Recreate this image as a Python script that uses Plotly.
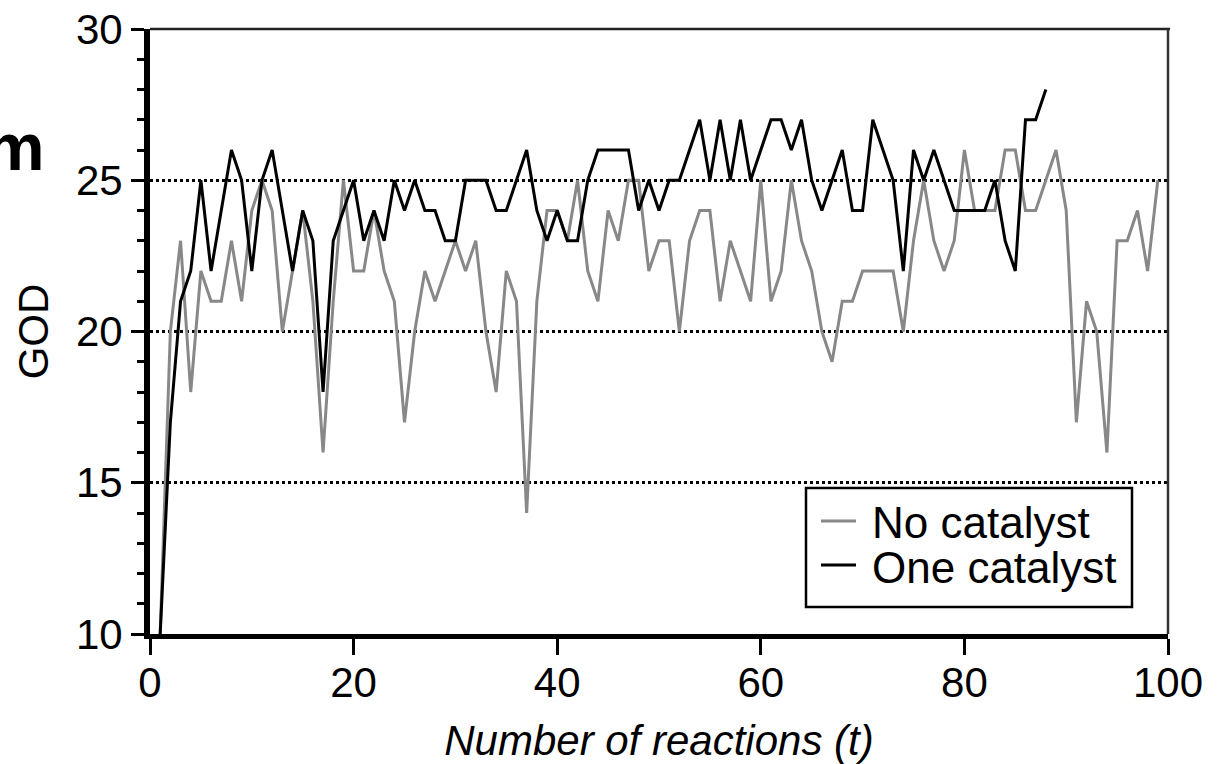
import plotly.graph_objects as go

# ---- data ----
t_no = list(range(1, 100))
god_no_catalyst = [
    10, 20, 23, 18, 22, 21, 21, 23, 21, 24,
    25, 24, 20, 22, 24, 21, 16, 21, 25, 22,
    22, 24, 22, 21, 17, 20, 22, 21, 22, 23,
    22, 23, 20, 18, 22, 21, 14, 21, 24, 24,
    23, 25, 22, 21, 24, 23, 25, 25, 22, 23,
    23, 20, 23, 24, 24, 21, 23, 22, 21, 25,
    21, 22, 25, 23, 22, 20, 19, 21, 21, 22,
    22, 22, 22, 20, 23, 25, 23, 22, 23, 26,
    24, 24, 24, 26, 26, 24, 24, 25, 26, 24,
    17, 21, 20, 16, 23, 23, 24, 22, 25,
]
t_one = list(range(1, 89))
god_one_catalyst = [
    10, 17, 21, 22, 25, 22, 24, 26, 25, 22,
    25, 26, 24, 22, 24, 23, 18, 23, 24, 25,
    23, 24, 23, 25, 24, 25, 24, 24, 23, 23,
    25, 25, 25, 24, 24, 25, 26, 24, 23, 24,
    23, 23, 25, 26, 26, 26, 26, 24, 25, 24,
    25, 25, 26, 27, 25, 27, 25, 27, 25, 26,
    27, 27, 26, 27, 25, 24, 25, 26, 24, 24,
    27, 26, 25, 22, 26, 25, 26, 25, 24, 24,
    24, 24, 25, 23, 22, 27, 27, 28,
]
series_names = ["No catalyst", "One catalyst"]
series_colors = ["#888888", "#000000"]
x_ticks = [0, 20, 40, 60, 80, 100]
y_ticks = [10, 15, 20, 25, 30]
x_title = "Number of reactions (t)"
y_title = "GOD"
panel_label = "m"

# ---- layout helpers (pixel -> paper) ----
W, H = 1226, 764
PL, PR, PT, PB = 150, 1168, 29, 634


def px(x):
    return (x - PL) / (PR - PL)


def py(y):
    return (PB - y) / (PB - PT)


FONT = "Liberation Sans, Arial, Helvetica, sans-serif"
LW = 3

fig = go.Figure()
fig.add_trace(go.Scatter(x=t_no, y=god_no_catalyst, mode="lines",
                         name=series_names[0],
                         line=dict(color=series_colors[0], width=LW),
                         showlegend=False))
fig.add_trace(go.Scatter(x=t_one, y=god_one_catalyst, mode="lines",
                         name=series_names[1],
                         line=dict(color=series_colors[1], width=LW),
                         showlegend=False))

fig.update_layout(
    width=W, height=H,
    margin=dict(l=PL, r=W - PR, t=PT, b=H - PB, pad=0, autoexpand=False),
    paper_bgcolor="white", plot_bgcolor="white",
    font=dict(family=FONT, size=42, color="black"),
    xaxis=dict(
        range=[0, 100], tickmode="array", tickvals=x_ticks,
        ticks="outside", ticklen=16, tickwidth=3, tickcolor="black",
        ticklabelstandoff=-8,
        showline=True, linewidth=5, linecolor="black",
        showgrid=False, zeroline=False, automargin=False,
        tickfont=dict(size=42),
        title=dict(text=f"<i>{x_title}</i>", font=dict(size=42), standoff=22),
    ),
    yaxis=dict(
        range=[10, 30], tickmode="array", tickvals=y_ticks,
        ticks="outside", ticklen=13, tickwidth=3, tickcolor="black",
        showline=True, linewidth=6, linecolor="black",
        showgrid=True, gridcolor="black", gridwidth=2.7, griddash="dot",
        zeroline=False, automargin=False,
        minor=dict(tickmode="linear", tick0=10, dtick=1, ticks="outside",
                   ticklen=7, tickwidth=2.5, tickcolor="black", showgrid=False),
        tickfont=dict(size=42),
        title=dict(text=y_title, font=dict(size=42), standoff=16),
    ),
)

shapes = [
    # thin top and right frame
    dict(type="line", xref="paper", yref="paper", x0=0, x1=1.002, y0=1, y1=1,
         line=dict(color="#222222", width=2.5), layer="above"),
    dict(type="line", xref="paper", yref="paper", x0=1, x1=1, y0=0, y1=1,
         line=dict(color="#333333", width=2.5), layer="above"),
    # legend box
    dict(type="rect", xref="paper", yref="paper",
         x0=px(806), x1=px(1132), y0=py(607), y1=py(488),
         line=dict(color="black", width=2.5), fillcolor="white", layer="above"),
    dict(type="line", xref="paper", yref="paper",
         x0=px(821), x1=px(856), y0=py(521), y1=py(521),
         line=dict(color=series_colors[0], width=LW), layer="above"),
    dict(type="line", xref="paper", yref="paper",
         x0=px(821), x1=px(856), y0=py(565), y1=py(565),
         line=dict(color=series_colors[1], width=LW), layer="above"),
]
fig.update_layout(shapes=shapes)

annotations = [
    dict(text=series_names[0], xref="paper", yref="paper", x=px(870), y=py(522),
         xanchor="left", yanchor="middle", showarrow=False,
         font=dict(size=44, family=FONT, color="black")),
    dict(text=series_names[1], xref="paper", yref="paper", x=px(870), y=py(567),
         xanchor="left", yanchor="middle", showarrow=False,
         font=dict(size=44, family=FONT, color="black")),
    dict(text=panel_label, xref="paper", yref="paper",
         x=px(47), y=py(146), xanchor="right", yanchor="middle",
         showarrow=False,
         font=dict(size=67, family="Liberation Sans", weight="bold", color="black")),
]
fig.update_layout(annotations=annotations)

fig.write_html("out.html",
               config={"displayModeBar": False},
               post_script="document.body.style.margin='0';"
                           "document.body.style.padding='0';"
                           "document.body.style.overflow='hidden';")
